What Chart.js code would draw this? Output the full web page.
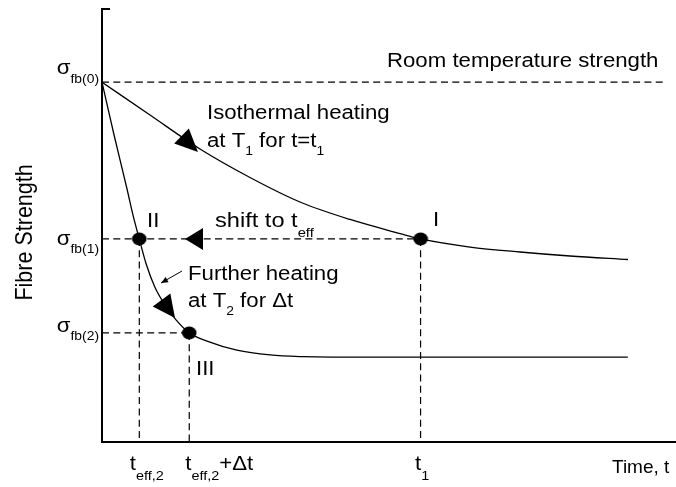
<!DOCTYPE html>
<html>
<head>
<meta charset="utf-8">
<script src="https://cdn.jsdelivr.net/npm/chart.js@4/dist/chart.umd.min.js"></script>
<style>
  html, body { margin: 0; padding: 0; background: #fff; }
  canvas { display: block; }
</style>
</head>
<body>
<canvas id="chart" width="676" height="487"></canvas>
<script>
// Fibre strength loss during heating (arbitrary units on both axes)

// Isothermal heating at T1
const curve1Time     = [0, 8.36, 17.07, 25.78, 34.49, 43.21, 51.92, 55.5, 64.11, 72.82, 81.53, 91.64];
const curve1Strength = [83.1, 75.52, 67.67, 61.09, 55.43, 51.39, 48.15, 46.9, 45.03, 43.88, 42.96, 42.15];

// Further heating at the higher temperature T2
const curve2Time     = [0, 2.1, 4.4, 5.4, 6.5, 7.7, 9.2, 11.0, 12.9, 15.2, 18.3, 23.5, 29.3, 35.0, 40.0, 45.0, 91.6];
const curve2Strength = [83.1, 70.9, 58.2, 52.4, 46.9, 41.1, 35.8, 31.6, 28.2, 25.2, 23.3, 21.2, 20.1, 19.7, 19.6, 19.6, 19.6];

// Strength levels σfb(0), σfb(1), σfb(2)
const levelSubscripts = ['fb(0)', 'fb(1)', 'fb(2)'];
const levelValues     = [83.1, 46.9, 25.2];

// Times t_eff,2 , t_eff,2+Δt , t1
const timeMainText = ['t', 't', 't'];
const timeSubText  = ['eff,2', 'eff,2', '1'];
const timeTail     = ['', '+Δt', ''];
const timeValues   = [6.5, 15.2, 55.5];

// States I, II, III
const stateLabels    = ['I', 'II', 'III'];
const stateTimes     = [55.5, 6.5, 15.2];
const stateStrengths = [46.9, 46.9, 25.2];

// Extent of the room-temperature reference line
const roomTempEnd = 97.7;

const FONT = '"Liberation Sans", Arial, Helvetica, sans-serif';
const SX = 1.11;          // slight horizontal widening of lettering
const MAIN = 20, SUB = 12.5;

// Filled, slightly wide dot used for the states
function dotStyle() {
  const c = document.createElement('canvas');
  c.width = 16; c.height = 14;
  const g = c.getContext('2d');
  g.fillStyle = '#000';
  g.beginPath();
  g.ellipse(8, 7, 7.3, 6.4, 0, 0, Math.PI * 2);
  g.fill();
  return c;
}

function seg(x0, y0, x1, y1) { return [{x: x0, y: y0}, {x: x1, y: y1}]; }

const dashed = (data) => ({
  data, borderColor: '#000', borderWidth: 1.2, borderDash: [7, 4.3],
  pointRadius: 0, fill: false, tension: 0
});

const datasets = [
  {
    label: 'States',
    data: stateTimes.map((t, i) => ({x: t, y: stateStrengths[i]})),
    showLine: false, pointStyle: dotStyle(), pointRadius: 7, pointHoverRadius: 7
  },
  {
    label: 'Isothermal heating at T1',
    data: curve1Time.map((t, i) => ({x: t, y: curve1Strength[i]})),
    borderColor: '#000', borderWidth: 1.3, pointRadius: 0,
    cubicInterpolationMode: 'monotone', fill: false
  },
  {
    label: 'Further heating at T2',
    data: curve2Time.map((t, i) => ({x: t, y: curve2Strength[i]})),
    borderColor: '#000', borderWidth: 1.3, pointRadius: 0,
    cubicInterpolationMode: 'monotone', fill: false
  },
  dashed(seg(0, levelValues[0], roomTempEnd, levelValues[0])),
  dashed(seg(0, levelValues[1], timeValues[2], levelValues[1])),
  dashed(seg(0, levelValues[2], timeValues[1], levelValues[2])),
  dashed(seg(timeValues[0], levelValues[1], timeValues[0], 0)),
  dashed(seg(timeValues[1], levelValues[2], timeValues[1], 0)),
  dashed(seg(timeValues[2], levelValues[1], timeValues[2], 0))
];

// Text with subscripts: parts are [text, isSubscript]
function rich(ctx, x, y, parts, opt = {}) {
  const size = opt.size || MAIN, sub = opt.sub || SUB, dy = opt.dy == null ? 9 : opt.dy;
  const sx = opt.sx || SX;
  ctx.save();
  ctx.translate(x, y);
  ctx.scale(sx, 1);
  let w = 0;
  for (const [t, s] of parts) {
    ctx.font = (s ? sub : size) + 'px ' + FONT;
    w += ctx.measureText(t).width;
  }
  let cx = opt.align === 'right' ? -w : 0;
  ctx.fillStyle = '#000';
  ctx.textBaseline = 'alphabetic';
  ctx.textAlign = 'left';
  for (const [t, s] of parts) {
    ctx.font = (s ? sub : size) + 'px ' + FONT;
    ctx.fillText(t, cx, s ? dy : 0);
    cx += ctx.measureText(t).width;
  }
  ctx.restore();
}

function head(ctx, tip, base, half) {
  const dx = tip[0] - base[0], dy = tip[1] - base[1];
  const L = Math.hypot(dx, dy), nx = -dy / L, ny = dx / L;
  ctx.beginPath();
  ctx.moveTo(tip[0], tip[1]);
  ctx.lineTo(base[0] + nx * half, base[1] + ny * half);
  ctx.lineTo(base[0] - nx * half, base[1] - ny * half);
  ctx.closePath();
  ctx.fill();
}

// Arrowheads along the curves and the shift line (data coordinates)
const arrowHeads = [
  {tip: [16.72, 66.97], base: [13.85, 70.67], half: 10.5},
  {tip: [14.46, 46.9],  base: [17.6, 46.9],   half: 11},
  {tip: [12.72, 28.64], base: [10.37, 32.8],  half: 11}
];
const pointer = {from: [13.94, 39.49], to: [10.28, 36.72]};

// Free text notes, baseline-left anchored (data coordinates)
const notes = [
  {x: 49.65, y: 86.6,  parts: [['Room temperature strength']]},
  {x: 18.29, y: 74.6,  parts: [['Isothermal heating']]},
  {x: 18.29, y: 68.13, parts: [['at T'], ['1', 1], [' for t=t'], ['1', 1]], dy: 8},
  {x: 19.69, y: 49.65, parts: [['shift to t'], ['eff', 1]], dy: 10, sx: 1.18},
  {x: 14.98, y: 37.41, parts: [['Further heating']]},
  {x: 14.98, y: 31.18, parts: [['at T'], ['2', 1], [' for Δt']], dy: 8},
  {x: 88.85, y: -7.16, parts: [['Time, t']], size: 19, sx: 1}
];
const stateNotePos = [[57.67, 49.9], [7.84, 49.65], [16.38, 15.47]];
const levelLabelShift = [[-8, 9], [6, 8], [-1, 8]];   // [σ baseline, subscript drop] in px
const timeLabelShift = [-9.5, -4, -5.5];              // px from the time line to label start

const annotate = {
  id: 'annotate',
  afterDatasetsDraw(chart) {
    const {ctx, chartArea: a} = chart;
    const xs = chart.scales.x, ys = chart.scales.y;
    const P = (p) => [xs.getPixelForValue(p[0]), ys.getPixelForValue(p[1])];

    ctx.save();
    // small cap at the top of the strength axis
    ctx.strokeStyle = '#000';
    ctx.lineWidth = 2;
    ctx.beginPath();
    ctx.moveTo(a.left, a.top);
    ctx.lineTo(a.left + 8, a.top);
    ctx.stroke();

    ctx.fillStyle = '#000';
    for (const h of arrowHeads) head(ctx, P(h.tip), P(h.base), h.half);

    // pointer from the note to the T2 curve
    const f = P(pointer.from), t = P(pointer.to);
    ctx.lineWidth = 1;
    ctx.beginPath();
    ctx.moveTo(f[0], f[1]);
    ctx.lineTo(t[0], t[1]);
    ctx.stroke();
    const d = Math.hypot(f[0] - t[0], f[1] - t[1]);
    const b = [t[0] + (f[0] - t[0]) / d * 7, t[1] + (f[1] - t[1]) / d * 7];
    head(ctx, t, b, 3);

    for (const n of notes) {
      const p = P([n.x, n.y]);
      rich(ctx, p[0], p[1], n.parts, {dy: n.dy, size: n.size, sx: n.sx});
    }
    stateLabels.forEach((s, i) => {
      const p = P(stateNotePos[i]);
      rich(ctx, p[0], p[1], [[s]]);
    });

    // σ level labels on the strength axis
    levelValues.forEach((v, i) => {
      const y = ys.getPixelForValue(v);
      rich(ctx, a.left - 3, y + levelLabelShift[i][0],
        [['σ'], [levelSubscripts[i], 1]], {align: 'right', dy: levelLabelShift[i][1]});
    });

    // time labels under the time axis
    timeValues.forEach((v, i) => {
      const x = xs.getPixelForValue(v) + timeLabelShift[i];
      const parts = [[timeMainText[i]], [timeSubText[i], 1]];
      if (timeTail[i]) parts.push([timeTail[i]]);
      rich(ctx, x, a.bottom + 28, parts, {dy: 10, sub: 13});
    });

    // rotated axis title
    ctx.translate(a.left - 70, ys.getPixelForValue(48.4));
    ctx.rotate(-Math.PI / 2);
    ctx.scale(1, SX);
    ctx.font = '21.5px ' + FONT;
    ctx.textAlign = 'center';
    ctx.textBaseline = 'alphabetic';
    ctx.fillText('Fibre Strength', 0, 0);
    ctx.restore();
  }
};

new Chart(document.getElementById('chart'), {
  type: 'line',
  data: {datasets},
  options: {
    responsive: false,
    animation: false,
    devicePixelRatio: 1,
    layout: {autoPadding: false, padding: {left: 102, top: 9, right: 0, bottom: 45}},
    plugins: {legend: {display: false}, tooltip: {enabled: false}},
    scales: {
      x: {
        type: 'linear', min: 0, max: 100,
        grid: {display: false, drawTicks: false},
        ticks: {display: false},
        border: {display: true, color: '#000', width: 2}
      },
      y: {
        type: 'linear', min: 0, max: 100,
        grid: {display: false, drawTicks: false},
        ticks: {display: false},
        border: {display: true, color: '#000', width: 2}
      }
    }
  },
  plugins: [annotate]
});
</script>
</body>
</html>
